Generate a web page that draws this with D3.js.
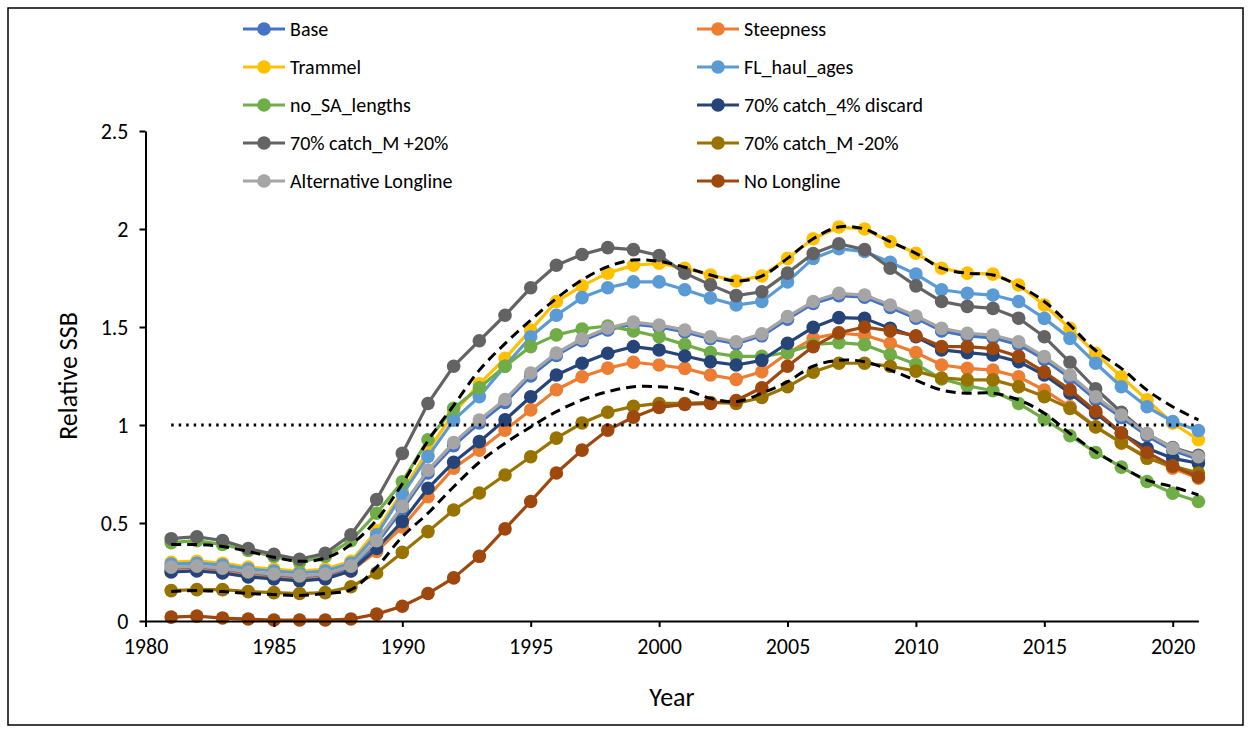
<!DOCTYPE html>
<html>
<head>
<meta charset="utf-8">
<script src="https://cdn.jsdelivr.net/npm/d3@7"></script>
<style>
  html, body { margin: 0; padding: 0; background: #fff; }
  svg { display: block; }
  text { font-family: Carlito, Calibri, Lato, "Open Sans", sans-serif; fill: #000; }
</style>
</head>
<body>
<svg id="chart" width="1250" height="729"></svg>
<script>
// ---------------- data ----------------
const years = d3.range(1981, 2022);
const xTicks = [1980, 1985, 1990, 1995, 2000, 2005, 2010, 2015, 2020];
const yTicks = [0, 0.5, 1, 1.5, 2, 2.5];
const seriesNames = ["Base", "Steepness", "Trammel", "FL_haul_ages", "no_SA_lengths",
  "70% catch_4% discard", "70% catch_M +20%", "70% catch_M -20%", "Alternative Longline", "No Longline"];
const seriesColors = ["#4472C4", "#ED7D31", "#FFC000", "#5B9BD5", "#70AD47",
  "#264478", "#636363", "#997300", "#A5A5A5", "#9E480E"];

const base = [0.262,0.268,0.258,0.238,0.228,0.218,0.228,0.268,0.395,0.57,0.755,0.895,1.01,1.115,1.25,1.355,1.43,1.485,1.515,1.50,1.475,1.44,1.415,1.455,1.54,1.62,1.66,1.652,1.60,1.545,1.48,1.455,1.445,1.41,1.335,1.24,1.13,1.038,0.945,0.87,0.825];
const steepness = [0.255,0.26,0.25,0.23,0.22,0.21,0.22,0.255,0.355,0.48,0.634,0.78,0.872,0.974,1.077,1.18,1.246,1.29,1.32,1.306,1.289,1.255,1.233,1.272,1.366,1.442,1.468,1.459,1.417,1.37,1.306,1.289,1.28,1.246,1.178,1.093,0.991,0.907,0.838,0.779,0.728];
const trammel = [0.30,0.305,0.295,0.275,0.265,0.255,0.265,0.305,0.46,0.66,0.87,1.06,1.21,1.34,1.485,1.63,1.71,1.775,1.815,1.825,1.80,1.765,1.735,1.76,1.85,1.95,2.01,2.0,1.935,1.876,1.80,1.775,1.77,1.714,1.612,1.493,1.366,1.246,1.128,1.009,0.925];
const flHaulAges = [0.29,0.295,0.285,0.265,0.255,0.245,0.255,0.295,0.44,0.645,0.84,1.025,1.145,1.30,1.45,1.56,1.65,1.70,1.73,1.73,1.69,1.648,1.612,1.63,1.73,1.85,1.90,1.885,1.83,1.77,1.69,1.672,1.663,1.63,1.544,1.442,1.315,1.195,1.093,1.017,0.972];
const noSALengths = [0.40,0.41,0.39,0.36,0.33,0.30,0.33,0.41,0.55,0.71,0.925,1.085,1.19,1.30,1.40,1.46,1.49,1.505,1.48,1.45,1.41,1.37,1.35,1.35,1.37,1.41,1.42,1.41,1.36,1.31,1.235,1.20,1.175,1.11,1.03,0.945,0.86,0.785,0.712,0.652,0.61];
const catch70Discard4 = [0.25,0.255,0.245,0.225,0.215,0.205,0.215,0.255,0.37,0.507,0.677,0.81,0.915,1.026,1.144,1.255,1.315,1.366,1.40,1.383,1.352,1.323,1.306,1.33,1.417,1.498,1.548,1.544,1.493,1.45,1.383,1.369,1.357,1.323,1.255,1.162,1.06,0.957,0.881,0.83,0.805];
const catch70MPlus20 = [0.42,0.43,0.41,0.37,0.34,0.315,0.345,0.44,0.62,0.855,1.11,1.30,1.43,1.56,1.70,1.815,1.87,1.905,1.895,1.865,1.775,1.715,1.66,1.68,1.775,1.875,1.925,1.895,1.80,1.71,1.63,1.605,1.595,1.545,1.45,1.32,1.185,1.065,0.955,0.885,0.845];
const catch70MMinus20 = [0.155,0.16,0.16,0.15,0.145,0.14,0.145,0.175,0.245,0.35,0.456,0.566,0.653,0.745,0.838,0.933,1.01,1.065,1.095,1.11,1.11,1.115,1.11,1.14,1.195,1.27,1.315,1.315,1.30,1.275,1.24,1.23,1.23,1.195,1.145,1.085,0.99,0.91,0.83,0.79,0.755];
const altLongline = [0.275,0.28,0.27,0.25,0.24,0.23,0.24,0.28,0.41,0.585,0.77,0.91,1.025,1.13,1.265,1.367,1.44,1.495,1.525,1.51,1.485,1.45,1.425,1.465,1.553,1.63,1.672,1.663,1.612,1.556,1.493,1.468,1.459,1.425,1.349,1.255,1.144,1.051,0.957,0.881,0.838];
const noLongline = [0.02,0.025,0.015,0.01,0.005,0.005,0.005,0.01,0.035,0.075,0.14,0.22,0.33,0.47,0.61,0.755,0.872,0.974,1.04,1.09,1.105,1.11,1.125,1.19,1.30,1.40,1.47,1.50,1.48,1.455,1.40,1.40,1.39,1.35,1.27,1.18,1.07,0.96,0.86,0.79,0.735];
const ciUpper = [0.39,0.39,0.38,0.355,0.325,0.305,0.32,0.39,0.515,0.70,0.92,1.10,1.28,1.415,1.535,1.646,1.74,1.808,1.842,1.835,1.805,1.765,1.735,1.76,1.85,1.95,2.01,2.0,1.935,1.876,1.80,1.774,1.765,1.71,1.63,1.51,1.38,1.289,1.178,1.093,1.026];
const ciLower = [0.15,0.155,0.15,0.14,0.135,0.13,0.14,0.16,0.275,0.43,0.55,0.685,0.81,0.907,0.99,1.068,1.128,1.17,1.195,1.195,1.18,1.136,1.119,1.162,1.221,1.30,1.33,1.323,1.28,1.228,1.178,1.162,1.162,1.128,1.06,0.957,0.864,0.787,0.719,0.685,0.643];
const refLevel = 1;

const seriesValues = [base, steepness, trammel, flHaulAges, noSALengths,
  catch70Discard4, catch70MPlus20, catch70MMinus20, altLongline, noLongline];

// ---------------- layout ----------------
const svg = d3.select("#chart");
const x = d3.scaleLinear().domain([1980, 2021]).range([145.5, 1198.4]);
const y = d3.scaleLinear().domain([0, 2.5]).range([621, 131]);

// figure border
svg.append("rect").attr("x", 8).attr("y", 8).attr("width", 1235).attr("height", 717)
  .attr("fill", "none").attr("stroke", "#000").attr("stroke-width", 1.5);

// series
const lineGen = d3.line().x((d, i) => x(years[i])).y(d => y(d));
seriesValues.forEach((vals, si) => {
  const g = svg.append("g");
  g.append("path").attr("d", lineGen(vals)).attr("fill", "none")
    .attr("stroke", seriesColors[si]).attr("stroke-width", 3.2).attr("stroke-linejoin", "round");
  g.selectAll("circle").data(vals).join("circle")
    .attr("cx", (d, i) => x(years[i])).attr("cy", d => y(d)).attr("r", 6.8)
    .attr("fill", seriesColors[si]);
});

// confidence bounds (dashed, smoothed)
const smooth = d3.line().x((d, i) => x(years[i])).y(d => y(d)).curve(d3.curveCatmullRom.alpha(0.5));
[ciUpper, ciLower].forEach(vals => {
  svg.append("path").attr("d", smooth(vals)).attr("fill", "none")
    .attr("stroke", "#000").attr("stroke-width", 3).attr("stroke-dasharray", "10,6");
});

// reference line at 1
svg.append("line").attr("x1", x(years[0])).attr("x2", x(years[years.length - 1]))
  .attr("y1", y(refLevel)).attr("y2", y(refLevel))
  .attr("stroke", "#000").attr("stroke-width", 3).attr("stroke-dasharray", "2.5,5");

// axes
const xAxis = d3.axisBottom(x).tickValues(xTicks).tickFormat(d3.format("d")).tickSize(6).tickSizeOuter(0);
const gx = svg.append("g").attr("transform", `translate(0,${y(0)})`).call(xAxis);
gx.select(".domain").attr("stroke", "#000").attr("stroke-width", 2);
gx.selectAll(".tick line").attr("stroke", "#000").attr("stroke-width", 2);
gx.selectAll(".tick text").attr("font-size", 22).attr("y", 12).attr("dy", "0.95em")
  .style("font-family", "Carlito, Calibri, Lato, sans-serif");

const yAxis = d3.axisLeft(y).tickValues(yTicks).tickFormat(d => d === 0 ? "0" : String(d)).tickSize(6).tickSizeOuter(0);
const gy = svg.append("g").attr("transform", `translate(${x(1980)},0)`).call(yAxis);
gy.select(".domain").attr("stroke", "#000").attr("stroke-width", 2);
gy.selectAll(".tick line").attr("stroke", "#000").attr("stroke-width", 2);
gy.selectAll(".tick text").attr("font-size", 22).attr("x", -17)
  .style("font-family", "Carlito, Calibri, Lato, sans-serif");

// axis titles
svg.append("text").attr("x", 672).attr("y", 706).attr("text-anchor", "middle")
  .attr("font-size", 26).text("Year");
svg.append("text").attr("transform", "translate(77,376) rotate(-90)").attr("text-anchor", "middle")
  .attr("font-size", 26).text("Relative SSB");

// legend
const legendCols = [243, 697];
const legendRows = [29, 67, 105, 143, 181];
seriesNames.forEach((name, i) => {
  const cx = legendCols[i % 2], cy = legendRows[Math.floor(i / 2)];
  const g = svg.append("g").attr("transform", `translate(${cx},${cy})`);
  g.append("line").attr("x1", 0).attr("x2", 42).attr("y1", 0).attr("y2", 0)
    .attr("stroke", seriesColors[i]).attr("stroke-width", 3.2);
  g.append("circle").attr("cx", 21).attr("cy", 0).attr("r", 6.8).attr("fill", seriesColors[i]);
  g.append("text").attr("x", 47).attr("y", 0).attr("dy", "0.35em").attr("font-size", 20).text(name);
});
</script>
</body>
</html>
